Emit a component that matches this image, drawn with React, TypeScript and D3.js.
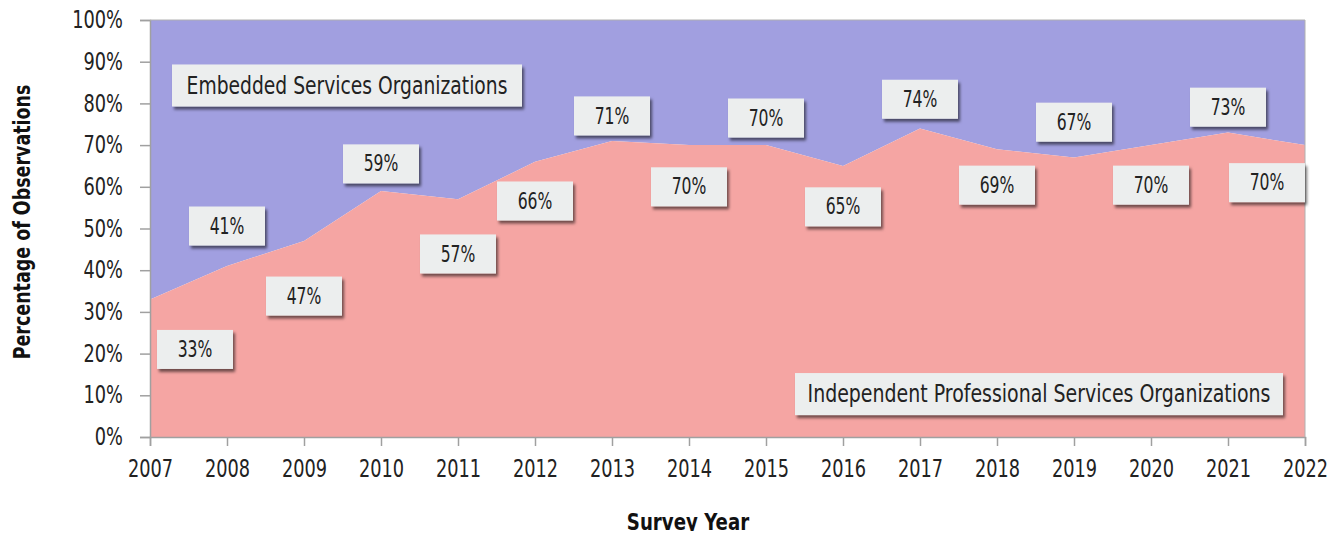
import * as d3 from 'd3';
import { useEffect, useRef } from 'react';

const years = [2007, 2008, 2009, 2010, 2011, 2012, 2013, 2014, 2015, 2016, 2017, 2018, 2019, 2020, 2021, 2022];
const independentPct = [33, 41, 47, 59, 57, 66, 71, 70, 70, 65, 74, 69, 67, 70, 73, 70];
// where each value label sits, in percent units (alternating above/below the line)
const labelLevel = [21, 50.6, 33.8, 65.5, 43.9, 56.6, 77, 60, 76.5, 55.2, 81, 60.4, 75.5, 60.4, 79.1, 61];
const yTicks = [0, 10, 20, 30, 40, 50, 60, 70, 80, 90, 100];

const FONT = "'DejaVu Sans', sans-serif";

// no condensed font installed, so narrow the text horizontally
const squeeze = (sel: any, sx: number) => {
  sel.each(function (this: SVGTextElement) {
    const t = d3.select(this);
    const x0 = +(t.attr('x') || 0);
    const y0 = +(t.attr('y') || 0);
    t.attr('x', 0).attr('y', 0).attr('transform', `translate(${x0},${y0}) scale(${sx},1)`);
  });
  return sel;
};

const Chart = () => {
  const ref = useRef<SVGSVGElement | null>(null);

  useEffect(() => {
    if (!ref.current) return;
    const svg = d3.select(ref.current);
    svg.selectAll('*').remove();

    const width = 1343;
    const height = 539;
    svg.attr('width', width).attr('height', height).style('display', 'block');

    const left = 150, right = 1305, top = 20, bottom = 437;

    const x = d3.scaleLinear().domain([2007, 2022]).range([left, right]);
    const y = d3.scaleLinear().domain([0, 100]).range([bottom, top]);

    const defs = svg.append('defs');
    const f = defs.append('filter').attr('id', 'shadow').attr('x', '-10%').attr('y', '-20%').attr('width', '130%').attr('height', '160%');
    f.append('feDropShadow').attr('dx', 2).attr('dy', 3).attr('stdDeviation', 1.6)
      .attr('flood-color', '#000').attr('flood-opacity', 0.55);

    const data = years.map((yr, i) => ({ yr, v: independentPct[i] }));

    // embedded (top) area
    svg.append('path')
      .datum(data)
      .attr('fill', '#a19fe0')
      .attr('d', d3.area<{ yr: number; v: number }>()
        .x(d => x(d.yr))
        .y0(d => y(d.v))
        .y1(y(100)));

    // independent (bottom) area
    svg.append('path')
      .datum(data)
      .attr('fill', '#f5a5a3')
      .attr('d', d3.area<{ yr: number; v: number }>()
        .x(d => x(d.yr))
        .y0(y(0))
        .y1(d => y(d.v)));

    const txt = (sel: any, size: number, bold = false) =>
      sel.style('font-family', FONT)
        .style('font-size', `${size}px`).style('font-weight', bold ? 'bold' : 'normal');

    // axes
    const yAxis = svg.append('g').attr('transform', `translate(${left},0)`)
      .call(d3.axisLeft(y).tickValues(yTicks).tickSize(10).tickPadding(17).tickFormat(d => `${d}%`));
    const xAxis = svg.append('g').attr('transform', `translate(0,${bottom})`)
      .call(d3.axisBottom(x).tickValues(years).tickSize(9).tickPadding(14).tickFormat(d3.format('d')));

    [yAxis, xAxis].forEach(g => {
      g.selectAll('.domain').attr('stroke', '#a0a0a0').attr('stroke-width', 1.5);
      g.selectAll('.tick line').attr('stroke', '#a0a0a0').attr('stroke-width', 1.5);
      squeeze(txt(g.selectAll('.tick text').attr('fill', '#222'), 24), 0.74);
    });

    svg.append('line').attr('x1', left).attr('x2', right).attr('y1', top).attr('y2', top)
      .attr('stroke', '#b0b0b0').attr('stroke-width', 1);
    svg.append('line').attr('x1', right).attr('x2', right).attr('y1', top).attr('y2', bottom)
      .attr('stroke', '#b0b0b0').attr('stroke-width', 1);

    const box = (cx: number, cy: number, w: number, h: number, text: string, size: number, sx: number) => {
      const g = svg.append('g');
      g.append('rect')
        .attr('x', cx - w / 2).attr('y', cy - h / 2).attr('width', w).attr('height', h)
        .attr('fill', '#eceeee').attr('filter', 'url(#shadow)');
      squeeze(txt(g.append('text')
        .attr('x', cx).attr('y', cy)
        .attr('text-anchor', 'middle').attr('dominant-baseline', 'central')
        .attr('fill', '#222'), size)
        .text(text), sx);
    };

    // value labels
    data.forEach((d, i) => {
      const cx = Math.max(left + 45, Math.min(right - 38, x(d.yr)));
      box(cx, y(labelLevel[i]), 76, 39, `${d.v}%`, 23, 0.68);
    });

    box(347, y(84.3), 350, 42, 'Embedded Services Organizations', 24, 0.78);
    box(1039, y(10.3), 488, 42, 'Independent Professional Services Organizations', 24, 0.79);

    // axis titles
    txt(svg.append('text')
      .attr('transform', `translate(30,222) rotate(-90) scale(0.76,1)`)
      .attr('text-anchor', 'middle')
      .attr('fill', '#111'), 23, true)
      .text('Percentage of Observations');

    squeeze(txt(svg.append('text')
      .attr('x', 688).attr('y', 530)
      .attr('text-anchor', 'middle')
      .attr('fill', '#111'), 23, true)
      .text('Survey Year'), 0.79);
  }, []);

  return <svg ref={ref} />;
};

export default function App() {
  return (
    <div style={{ margin: -8 }}>
      <Chart />
    </div>
  );
}
